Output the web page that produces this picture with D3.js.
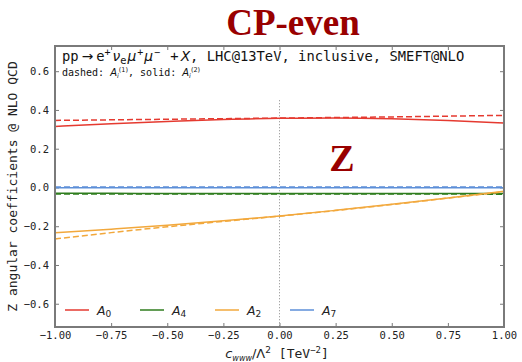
<!DOCTYPE html>
<html>
<head>
<meta charset="utf-8">
<script src="https://cdn.jsdelivr.net/npm/d3@7"></script>
<style>
  body { margin: 0; background: #fff; }
  svg { display: block; }
  .tick text { font-family: "DejaVu Sans Mono", monospace; font-size: 10.5px; fill: #222; }
</style>
</head>
<body>
<svg id="chart" width="522" height="362"></svg>
<script>
// Wilson coefficient c_www / Lambda^2 [TeV^-2]
const cwww = [-1, -0.75, -0.5, -0.25, 0, 0.25, 0.5, 0.75, 1];

// Z angular coefficients, A_i^(1) (dashed) and A_i^(2) (solid)
const A0_solid  = [0.315, 0.329, 0.341, 0.351, 0.357, 0.358, 0.354, 0.345, 0.333];
const A0_dashed = [0.346, 0.349, 0.352, 0.355, 0.358, 0.361, 0.364, 0.368, 0.372];
const A4_solid  = [-0.030, -0.030, -0.031, -0.031, -0.031, -0.031, -0.031, -0.031, -0.031];
const A4_dashed = [-0.034, -0.034, -0.034, -0.034, -0.034, -0.034, -0.034, -0.034, -0.035];
const A2_solid  = [-0.234, -0.215, -0.195, -0.172, -0.147, -0.118, -0.087, -0.054, -0.019];
const A2_dashed = [-0.266, -0.233, -0.203, -0.175, -0.148, -0.119, -0.088, -0.055, -0.022];
const A7_solid  = [-0.002, -0.002, -0.002, -0.002, -0.002, -0.002, -0.002, -0.002, -0.002];
const A7_dashed = [0.002, 0.002, 0.002, 0.002, 0.002, 0.002, 0.002, 0.002, 0.002];

const xTicks = [-1, -0.75, -0.5, -0.25, 0, 0.25, 0.5, 0.75, 1];
const yTicks = [-0.6, -0.4, -0.2, 0, 0.2, 0.4, 0.6];

const series = [
  { name: "A", sub: "0", color: "#e53a30", solid: A0_solid, dashed: A0_dashed },
  { name: "A", sub: "4", color: "#2f7d1e", solid: A4_solid, dashed: A4_dashed },
  { name: "A", sub: "2", color: "#f2a83c", solid: A2_solid, dashed: A2_dashed },
  { name: "A", sub: "7", color: "#5d8fd8", solid: A7_solid, dashed: A7_dashed }
];

const svg = d3.select("#chart");
const m = { left: 55, right: 504, top: 46, bottom: 327 };

const x = d3.scaleLinear().domain([-1, 1]).range([m.left, m.right]);
const y = d3.scaleLinear().domain([-0.72, 0.73]).range([m.bottom, m.top]);

const mono = "'DejaVu Sans Mono', monospace";
const sans = "'DejaVu Sans', sans-serif";
const frameColor = "#7a7a7a";

// title
svg.append("text")
  .attr("x", 293).attr("y", 35)
  .attr("text-anchor", "middle")
  .attr("font-family", "'Liberation Serif', 'Times New Roman', serif")
  .attr("font-weight", "bold")
  .attr("font-size", 37)
  .attr("fill", "#990000")
  .text("CP-even");

// axes with inward ticks on all four sides
const fmtX = d => d3.format(".2f")(d).replace("-", "\u2212");
const fmtY = d => d3.format(".1f")(d).replace("-", "\u2212");

const gx = svg.append("g").attr("transform", `translate(0,${m.bottom})`)
  .call(d3.axisBottom(x).tickValues(xTicks).tickFormat(fmtX).tickSizeInner(-4).tickSizeOuter(0).tickPadding(5));
const gxt = svg.append("g").attr("transform", `translate(0,${m.top})`)
  .call(d3.axisTop(x).tickValues(xTicks).tickFormat("").tickSizeInner(-4).tickSizeOuter(0));
const gy = svg.append("g").attr("transform", `translate(${m.left},0)`)
  .call(d3.axisLeft(y).tickValues(yTicks).tickFormat(fmtY).tickSizeInner(-4).tickSizeOuter(0).tickPadding(6));
const gyr = svg.append("g").attr("transform", `translate(${m.right},0)`)
  .call(d3.axisRight(y).tickValues(yTicks).tickFormat("").tickSizeInner(-4).tickSizeOuter(0));
[gx, gxt, gy, gyr].forEach(g => {
  g.select(".domain").remove();
  g.selectAll(".tick line").attr("stroke", frameColor).attr("stroke-width", 1);
});

// vertical reference line at c_www = 0
svg.append("line")
  .attr("x1", x(0)).attr("x2", x(0))
  .attr("y1", y(0.45)).attr("y2", m.bottom)
  .attr("stroke", "#888").attr("stroke-width", 1)
  .attr("stroke-dasharray", "1,2");

// curves
const line = d3.line().x((d, i) => x(cwww[i])).y(d => y(d)).curve(d3.curveMonotoneX);
const plot = svg.append("g");
series.forEach(s => {
  plot.append("path").datum(s.dashed)
    .attr("d", line).attr("fill", "none")
    .attr("stroke", s.color).attr("stroke-width", 1.5)
    .attr("stroke-dasharray", "6,3");
  plot.append("path").datum(s.solid)
    .attr("d", line).attr("fill", "none")
    .attr("stroke", s.color).attr("stroke-width", 1.5);
});

// frame
svg.append("rect")
  .attr("x", m.left).attr("y", m.top)
  .attr("width", m.right - m.left).attr("height", m.bottom - m.top)
  .attr("fill", "none").attr("stroke", frameColor).attr("stroke-width", 2);

// process annotation
const t1 = svg.append("text").attr("x", 62).attr("y", 61)
  .attr("font-family", mono).attr("font-size", 13.8).attr("fill", "#111");
t1.append("tspan").text("pp");
t1.append("tspan").attr("dx", 3).attr("font-family", sans).text("\u2192");
t1.append("tspan").attr("dx", 3).text("e");
t1.append("tspan").attr("dy", -5).attr("font-size", 10).text("+");
t1.append("tspan").attr("dy", 5).attr("dx", 2).attr("font-style", "italic").attr("font-family", sans).text("\u03bd");
t1.append("tspan").attr("dy", 3).attr("font-size", 10).attr("font-family", sans).text("e");
t1.append("tspan").attr("dy", -3).attr("dx", 1).attr("font-style", "italic").attr("font-family", sans).text("\u03bc");
t1.append("tspan").attr("dy", -5).attr("dx", 1).attr("font-size", 10).text("+");
t1.append("tspan").attr("dy", 5).attr("dx", 1).attr("font-style", "italic").attr("font-family", sans).text("\u03bc");
t1.append("tspan").attr("dy", -5).attr("dx", 1).attr("font-size", 10).text("\u2212");
t1.append("tspan").attr("dy", 5).attr("dx", 2).text(" +");
t1.append("tspan").attr("dx", 2).attr("font-style", "italic").attr("font-family", sans).text("X");
t1.append("tspan").text(", LHC@13TeV, inclusive, SMEFT@NLO");

const t2 = svg.append("text").attr("x", 62).attr("y", 76)
  .attr("font-family", mono).attr("font-size", 10).attr("fill", "#111");
t2.append("tspan").text("dashed: ");
t2.append("tspan").attr("font-style", "italic").attr("font-family", sans).text("A");
t2.append("tspan").attr("dy", 2).attr("font-size", 6.5).attr("font-style", "italic").attr("font-family", sans).text("i");
t2.append("tspan").attr("dy", -6).attr("font-size", 6.5).attr("font-family", sans).text("(1)");
t2.append("tspan").attr("dy", 4).text(", solid: ");
t2.append("tspan").attr("font-style", "italic").attr("font-family", sans).text("A");
t2.append("tspan").attr("dy", 2).attr("font-size", 6.5).attr("font-style", "italic").attr("font-family", sans).text("i");
t2.append("tspan").attr("dy", -6).attr("font-size", 6.5).attr("font-family", sans).text("(2)");

// boson label
svg.append("text")
  .attr("x", 342).attr("y", 171)
  .attr("text-anchor", "middle")
  .attr("font-family", "'Liberation Serif', 'Times New Roman', serif")
  .attr("font-weight", "bold").attr("font-size", 38)
  .attr("fill", "#990000")
  .text("Z");

// legend
const legend = svg.append("g");
series.forEach((s, i) => {
  const lx = 65 + i * 75, ly = 310;
  legend.append("line")
    .attr("x1", lx).attr("x2", lx + 24).attr("y1", ly).attr("y2", ly)
    .attr("stroke", s.color).attr("stroke-width", 1.5);
  const lt = legend.append("text").attr("x", lx + 32).attr("y", ly + 4.5)
    .attr("font-family", sans).attr("font-size", 12.5).attr("fill", "#222");
  lt.append("tspan").attr("font-style", "italic").text(s.name);
  lt.append("tspan").attr("dy", 2.5).attr("font-size", 9).text(s.sub);
});

// axis labels
const xl = svg.append("text").attr("x", 277).attr("y", 358).attr("text-anchor", "middle")
  .attr("font-family", mono).attr("font-size", 13).attr("fill", "#222");
xl.append("tspan").attr("font-style", "italic").attr("font-family", sans).text("c");
xl.append("tspan").attr("dy", 2.5).attr("font-size", 8).attr("font-style", "italic").attr("font-family", sans).text("www");
xl.append("tspan").attr("dy", -2.5).attr("font-family", sans).text("/\u039b");
xl.append("tspan").attr("dy", -5).attr("font-size", 9).attr("font-family", sans).text("2");
xl.append("tspan").attr("dy", 5).text("  [TeV");
xl.append("tspan").attr("dy", -5).attr("font-size", 9).text("\u22122");
xl.append("tspan").attr("dy", 5).text("]");

svg.append("text")
  .attr("transform", `translate(17,${(m.top + m.bottom) / 2}) rotate(-90)`)
  .attr("text-anchor", "middle")
  .attr("font-family", mono).attr("font-size", 13).attr("fill", "#222")
  .text("Z angular coefficients @ NLO QCD");
</script>
</body>
</html>
